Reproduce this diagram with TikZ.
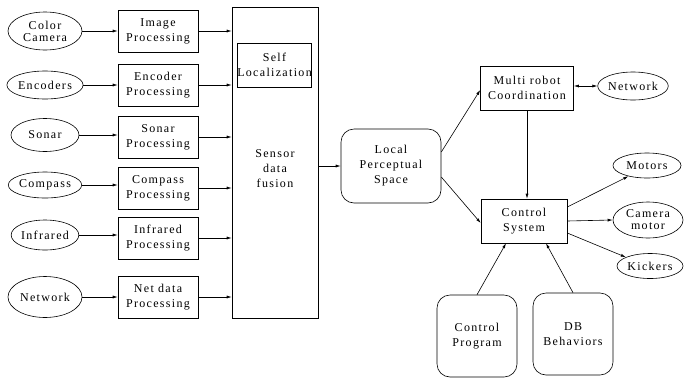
\documentclass[tikz,border=0pt]{standalone}
\usepackage{fontspec}
\setmainfont{Liberation Serif}[LetterSpace=11]
\usetikzlibrary{shapes.geometric,arrows.meta}
\begin{document}
\begin{tikzpicture}[x=1pt,y=-1pt,
  every node/.style={font=\fontsize{12}{15}\selectfont, align=center, inner sep=0pt, line width=0.6pt},
  sensor/.style={draw, ellipse},
  procbox/.style={draw, rectangle, minimum width=80pt, minimum height=42pt},
  roundbox/.style={draw, rectangle, rounded corners=13pt},
  conn/.style={line width=0.6pt, -{Latex[length=5pt,width=3pt]}},
  dconn/.style={line width=0.6pt, {Latex[length=5pt,width=3pt]}-{Latex[length=5pt,width=3pt]}}
]
\useasboundingbox (0,0) rectangle (684,378);

% sensors
\node[sensor, minimum width=74pt, minimum height=38pt] (cam) at (45,31) {Color\\[-3pt]Camera};
\node[sensor, minimum width=68pt, minimum height=28pt] (enc) at (45,85) {Encoders};
\node[sensor, minimum width=68pt, minimum height=33pt] (son) at (45,135) {Sonar};
\node[sensor, minimum width=68pt, minimum height=26pt] (cmp) at (45,185) {Compass};
\node[sensor, minimum width=65pt, minimum height=30pt] (ir)  at (45,235) {Infrared};
\node[sensor, minimum width=74pt, minimum height=41pt] (net) at (45,297) {Network};

% processing stages
\node[procbox] (pimg) at (158,31)  {Image\\Processing};
\node[procbox] (penc) at (158,85)  {Encoder\\Processing};
\node[procbox] (pson) at (158,137) {Sonar\\Processing};
\node[procbox] (pcmp) at (158,188) {Compass\\Processing};
\node[procbox] (pir)  at (158,238) {Infrared\\Processing};
\node[procbox] (pnet) at (158,297) {Net data\\Processing};

% fusion block
\node[draw, minimum width=86pt, minimum height=311pt] (fus) at (275,162.5) {};
\node[draw, minimum width=73pt, minimum height=44pt] (self) at (274.5,65) {Self\\Localization};
\node (fustext) at (275,169) {Sensor\\data\\fusion};

% world model and control
\node[roundbox, minimum width=100pt, minimum height=74pt] (lps) at (391,166) {Local\\Perceptual\\Space};
\node[draw, minimum width=93pt, minimum height=44pt] (mrc) at (527,88) {Multi robot\\Coordination};
\node[sensor, minimum width=60pt, minimum height=28pt] (net2) at (633,86) {Network};
\node[draw, minimum width=86pt, minimum height=44pt] (cs) at (524,221) {Control\\System};
\node[sensor, minimum width=68pt, minimum height=25pt] (mot) at (647,165.5) {Motors};
\node[sensor, minimum width=70pt, minimum height=36pt] (cmot) at (648,220) {Camera\\[-3pt]motor};
\node[sensor, minimum width=66pt, minimum height=25pt] (kick) at (650,266) {Kickers};
\node[roundbox, minimum width=80pt, minimum height=82pt] (cp) at (477,336) {Control\\Program};
\node[roundbox, minimum width=80pt, minimum height=82pt] (db) at (573,334) {DB\\Behaviors};

% sensor to processing
\foreach \s/\p in {cam/pimg, enc/penc, son/pson, cmp/pcmp, ir/pir, net/pnet}
  \draw[conn] (\s.east) -- (\s.east -| \p.west);
% processing to fusion
\foreach \p in {pimg, penc, pson, pcmp, pir, pnet}
  \draw[conn] (\p.east) -- (\p.east -| fus.west);

\draw[conn] (fus.east |- lps.west) -- (lps.west);
\draw[conn] ([yshift=14pt]lps.east) -- ([yshift=-2pt]mrc.west);
\draw[conn] ([yshift=-11pt]lps.east) -- ([yshift=-2pt]cs.west);
\draw[conn] (mrc.south) -- (mrc.south |- cs.north);
\draw[dconn] (mrc.east |- net2.west) -- (net2.west);
\draw[conn] ([yshift=14pt]cs.east) -- (mot.210);
\draw[conn] (cs.east) -- (cmot.west);
\draw[conn] ([yshift=-12pt]cs.east) -- (kick.160);
\draw[conn] (cp.north) -- ([xshift=-18pt]cs.south);
\draw[conn] (db.north) -- ([xshift=22pt]cs.south);
\end{tikzpicture}
\end{document}
